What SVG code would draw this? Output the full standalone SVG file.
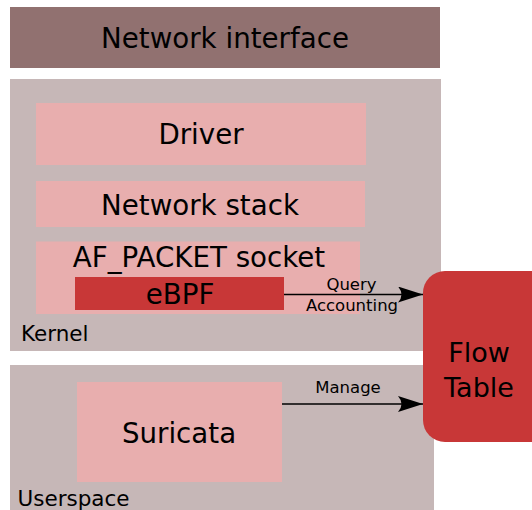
<svg xmlns="http://www.w3.org/2000/svg" width="532" height="510" viewBox="0 0 532 510">
<style>
text{font-family:"DejaVu Sans",sans-serif;fill:#000}
.big{font-size:27.7px;text-anchor:middle}
.lbl{font-size:21.5px}
.sm{font-size:16.5px;text-anchor:middle}
.layer{fill:#c6b7b7}
.pink{fill:#e8aeae}
.red{fill:#c83737}
.conn{stroke:#000;stroke-width:1.6;fill:none}
</style>
<defs>
<marker id="arr" markerUnits="userSpaceOnUse" markerWidth="26" markerHeight="16" refX="25" refY="8" orient="auto" viewBox="0 0 26 16">
<path d="M25,8 L0,0 Q7,8 0,16 Z" fill="#000"/>
</marker>
</defs>
<g id="network-interface">
<rect x="10" y="7" width="430" height="61" fill="#917170"/>
<text class="big" x="225" y="47.5">Network interface</text>
</g>
<g id="kernel">
<rect class="layer" x="10" y="79" width="431" height="272"/>
<text class="lbl" x="21" y="341">Kernel</text>
</g>
<g id="userspace">
<rect class="layer" x="10" y="365" width="424" height="150"/>
<text class="lbl" x="17.5" y="506">Userspace</text>
</g>
<g id="driver">
<rect class="pink" x="36" y="103" width="330" height="62"/>
<text class="big" x="201" y="144">Driver</text>
</g>
<g id="network-stack">
<rect class="pink" x="36" y="181" width="329" height="46"/>
<text class="big" x="200" y="214.5">Network stack</text>
</g>
<g id="af-packet">
<rect class="pink" x="36" y="241.5" width="324" height="72.5"/>
<text class="big" x="199" y="266.5">AF_PACKET socket</text>
</g>
<g id="ebpf">
<rect class="red" x="75" y="277" width="209" height="33"/>
<text class="big" x="180" y="303.5">eBPF</text>
</g>
<g id="suricata">
<rect class="pink" x="77" y="382" width="205" height="100"/>
<text class="big" x="179" y="442.5">Suricata</text>
</g>
<g id="flow-table">
<rect class="red" x="423" y="271" width="130" height="171" rx="22" ry="22"/>
<text class="big" x="479" y="362" style="font-size:27px">Flow</text>
<text class="big" x="479" y="397" style="font-size:27px">Table</text>
</g>
<g id="connectors">
<path class="conn" d="M284,294.5 H423" marker-end="url(#arr)"/>
<text class="sm" x="351.5" y="290">Query</text>
<text class="sm" x="352" y="311">Accounting</text>
<path class="conn" d="M282,404 H423" marker-end="url(#arr)"/>
<text class="sm" x="348" y="393">Manage</text>
</g>
</svg>
